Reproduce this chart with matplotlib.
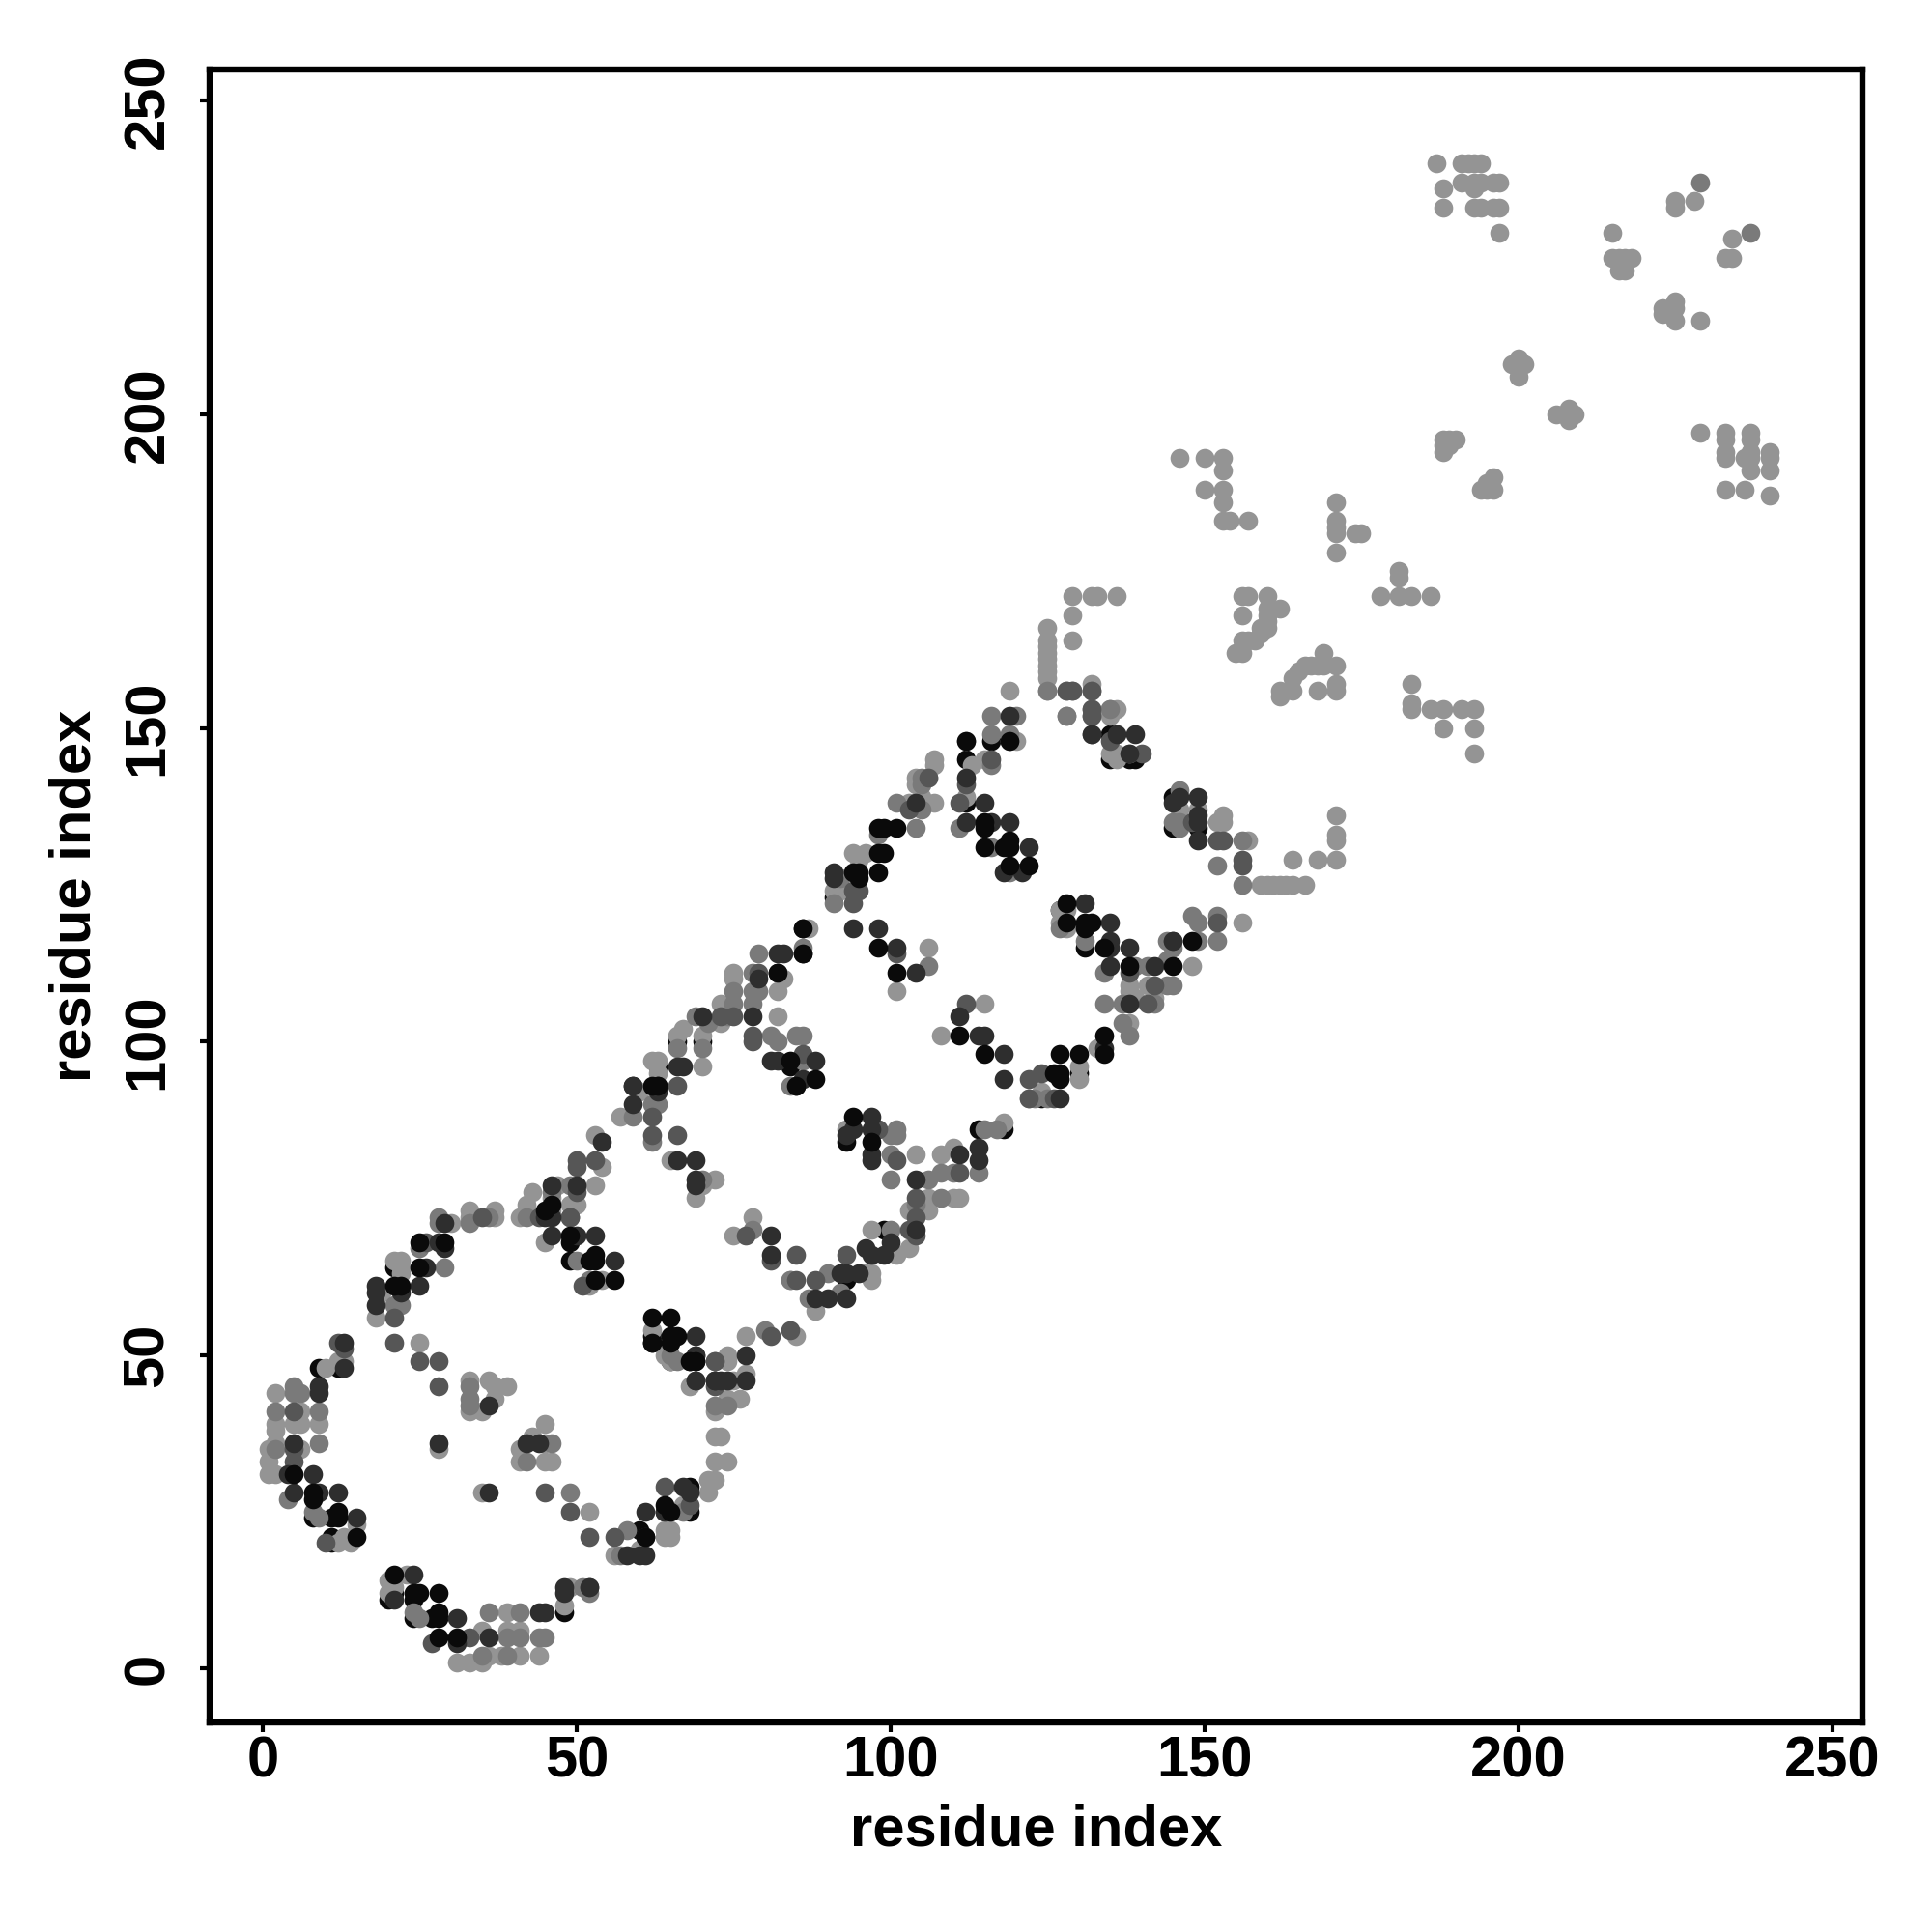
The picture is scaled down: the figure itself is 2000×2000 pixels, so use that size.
# contact map, residue index vs residue index
import matplotlib
matplotlib.use("Agg")
import matplotlib.pyplot as plt

plt.rcParams['font.family'] = ['Liberation Sans', 'DejaVu Sans']
plt.rcParams['font.weight'] = 'bold'

# contacts (residue i, residue j), grouped by how dark they are drawn
black_under = [(8,24),(11,24),(11,21),(9,48),(12,48),(48,9),(20,11),(28,8),(24,8),(27,8),(24,11),(21,12),
    (65,49),(64,25),(68,25),(68,29),(60,22),(62,52),(59,93),(63,96),(66,100),(70,100),(82,111),(86,114),(86,118),
    (84,96),(85,93),(99,70),(93,62),(93,84),(68,49),(69,49),(62,53),(112,145),(112,138),(116,148),(135,145),(138,145),(139,145),
    (135,149),(91,123),(145,139),(145,134),(149,134),(131,115),(130,95),(124,91),(127,121),
    (21,64),(11,20),(49,68),(49,65),(114,86),(118,86)]
shade_light = [(31,1),(33,1),(35,1),(36,2),(38,2),(41,2),(44,2),(35,6),(39,6),(41,6),(39,9),(48,10),
    (23,15),(20,14),(21,13),(20,12),(49,13),(14,20),(12,20),(13,21),(15,23),(2,31),(1,31),(1,33),(1,35),(2,36),(6,35),
    (2,38),(5,39),(6,39),(9,39),(2,39),(6,41),(2,44),(10,48),(12,49),(13,49),(25,52),(33,46),(36,46),(37,45),(39,45),(37,43),
    (33,41),(35,41),(45,39),(43,37),(45,36),(41,35),(41,33),(45,33),(46,33),(28,35),(35,28),(52,25),
    (56,18),(60,19),(64,22),(65,22),(65,21),(64,21),(64,50),(65,49),(67,26),(71,30),(71,28),(68,45),(62,54),
    (18,56),(19,60),(21,65),(22,65),(22,63),(22,64),(30,71),(33,72),(33,73),(45,68),(54,62),(52,61),
    (37,73),(37,72),(41,72),(42,73),(43,76),(42,74),(46,73),(46,75),(47,77),(49,74),(50,74),(53,77),(54,80),(53,85),
    (57,88),(60,92),(62,97),(63,97),(63,95),(70,96),(67,102),(66,101),(70,101),(73,106),(73,103),(75,110),(75,111),
    (83,110),(82,108),(87,118),(82,104),(106,115),(101,108),(93,86),(104,82),(108,82),(110,83),(110,75),(111,75),(106,75),(106,73),(103,73),
    (103,67),(101,66),(97,70),(96,63),(97,63),(97,62),(88,57),(84,62),(78,72),(75,69),(77,53),(85,53),(74,50),(74,49),
    (65,81),(72,78),(70,77),(69,75),(108,101),(115,106),(118,87),
    (77,47),(75,46),(76,43),(74,43),(72,41),(72,37),(73,37),(72,33),(74,33),(72,30),
    (119,156),(125,158),(132,157),(135,153),(136,153),(135,152),(112,148),(120,148),(113,144),(107,145),(107,144),
    (115,145),(104,142),(106,142),(104,141),(112,139),(107,138),(105,139),(103,138),(136,145),(135,146),(136,146),(138,146),
    (95,129),(94,130),(96,130),(92,124),(91,124),(127,121),(128,121),(127,119),(128,118),(148,112),(156,119),
    (138,108),(138,109),(139,107),(141,109),(142,107),(138,103),(124,92),(130,96),(133,99),(130,94),(122,91),
    (146,193),(150,193),(153,193),(153,191),(150,188),(153,188),(153,186),(153,183),(154,183),(157,183),
    (171,186),(171,183),(171,182),(171,181),(171,178),(174,181),(175,181),(181,175),(181,174),(178,171),(181,171),(183,171),(186,171),
    (129,171),(132,171),(133,171),(136,171),(129,168),(129,164),(125,166),(125,164),(125,163),(125,162),(125,161),(125,160),(125,159),
    (125,156),(156,171),(157,171),(160,171),(156,168),(160,169),(162,169),(160,168),(160,167),(159,166),(160,166),(158,164),(159,165),
    (156,164),(155,162),(156,162),(157,164),(169,162),(166,160),(167,160),(168,160),(169,160),(171,160),(165,159),(164,158),
    (162,156),(164,156),(162,155),(168,156),(171,157),(171,156),(183,157),(183,154),(183,153),(186,153),(188,153),(191,153),(193,153),
    (188,150),(193,150),(193,146),(149,137),(146,137),(153,136),(153,135),(152,135),(157,132),(159,125),(160,125),(161,125),(162,125),
    (163,125),(164,125),(166,125),(164,129),(168,129),(171,129),(171,133),(171,132),(171,136),
    (187,240),(191,240),(192,240),(193,240),(194,240),(188,236),(188,233),(191,237),(193,237),(193,236),(194,237),(196,237),(197,237),
    (193,233),(194,233),(196,233),(197,233),(197,229),(228,234),(225,234),(225,233),(215,229),(234,228),(233,225),(234,225),
    (215,225),(216,225),(217,225),(218,225),(216,223),(217,223),(223,217),(225,218),(223,216),(225,217),(225,215),(224,216),(229,215),
    (200,209),(199,208),(201,208),(200,208),(200,206),(206,200),(208,201),(209,200),(208,199),(229,197),(233,197),(233,196),(233,194),(233,193),
    (237,197),(237,196),(237,194),(236,193),(237,193),(237,191),(240,194),(240,193),(240,191),(233,188),(236,188),(240,187),
    (188,196),(189,196),(190,196),(188,195),(188,194),(189,195),(196,190),(195,189),(194,188),(196,188),(195,188)]
shade_mid = [(35,2),(39,2),(39,5),(41,5),(44,5),(45,5),(36,9),(41,9),(25,8),(24,9),(51,13),(52,12),(9,24),(8,25),
    (4,27),(33,43),(2,35),(2,41),(9,41),(5,45),(5,44),(6,44),(9,36),(42,33),(46,36),(33,42),(33,45),(49,28),
    (58,22),(57,18),(67,25),(65,53),(72,49),(46,76),(42,72),(49,77),(59,88),(62,90),(63,90),(62,84),(66,99),
    (21,58),(22,58),(25,67),(29,64),(28,72),(28,71),(33,71),(36,72),(50,65),(52,62),(70,78),(115,86),(117,86),
    (70,99),(69,104),(71,103),(74,104),(75,106),(75,108),(78,106),(78,108),(78,111),(79,108),(79,114),(86,115),(81,101),(82,100),
    (85,101),(86,101),(86,97),(84,93),(106,112),(98,86),(101,86),(100,85),(101,85),(100,82),(100,78),(106,78),(108,79),(110,79),(114,79),
    (108,75),(104,74),(100,70),(90,63),(92,60),(87,59),(84,62),(78,70),(80,54),(66,49),(65,50),(72,42),(74,42),(116,152),(120,152),(128,152),
    (125,156),(128,156),(129,156),(132,156),(116,149),(119,149),(119,148),(105,142),(105,141),(116,144),(111,134),(104,134),(105,137),
    (98,133),(116,131),(92,126),(91,122),(119,127),(127,118),(131,116),(139,112),(141,112),(144,113),(134,111),(134,106),(137,106),
    (144,109),(145,109),(142,106),(144,116),(145,115),(149,116),(152,116),(148,120),(149,119),(152,120),(137,103),(138,101),(125,91),(123,91),
    (146,140),(145,135),(146,135),(146,134),(156,132),(152,128),(156,125),(128,152),(132,153),(132,152),(135,153),(229,237),(237,229),(101,138)]
shade_middark = [(27,4),(33,5),(52,13),(10,20),(5,33),(5,35),(5,41),(12,52),(13,51),(21,52),(25,49),(28,49),(28,45),(45,28),(49,25),(52,21),(56,21),
    (21,56),(26,68),(44,72),(49,72),(51,61),
    (68,26),(64,29),(72,46),(72,45),(35,72),(50,76),(49,72),(50,81),(50,80),(53,81),(62,88),(62,85),(66,85),(66,93),(73,104),(75,104),(79,111),
    (78,101),(78,100),(86,98),(101,114),(98,86),(101,81),(111,79),(104,75),(104,72),(103,70),(104,69),(93,66),(88,62),(85,66),(77,69),(85,62),(81,65),
    (81,53),(84,54),(72,49),(132,156),(132,152),(141,106),(142,109),(138,111),(112,141),(116,145),(94,124),(95,124),(94,122),(122,94),(122,91),(124,95),(126,91),
    (135,148),(140,146),(128,156),(129,156),(152,132),(153,132),(156,129),(156,128),(148,135),(132,153),(132,149),(145,116),(152,119),(112,106),(103,137),(106,142),(111,138)]
shade_dark = [(31,4),(36,5),(44,9),(45,9),(31,8),(24,15),(21,11),(48,13),(52,13),(48,12),(15,24),(12,28),(9,28),(5,28),(8,31),(4,31),(5,36),(9,45),(9,44),(13,48),(13,52),
    (18,61),(18,60),(18,58),(22,60),(25,61),(26,64),(28,68),(29,67),(29,71),(46,69),(50,69),(53,69),(56,65),(66,81),(69,81),(69,78),(69,77),
    (42,36),(44,36),(36,42),(28,36),(36,28),(61,21),(58,18),(60,18),(61,18),(61,25),(64,25),(67,29),(68,28),(69,46),(72,46),(73,46),(69,50),(69,53),
    (45,72),(46,72),(46,77),(50,77),(54,84),(59,90),(59,93),(63,93),(63,92),(66,96),(67,96),(70,104),(78,104),(79,110),(82,114),(83,114),(81,97),(82,97),(88,97),(86,94),
    (94,118),(98,118),(101,115),(104,111),(97,88),(94,86),(93,85),(97,86),(97,82),(97,81),(104,78),(111,82),(114,83),(114,81),
    (104,70),(96,67),(97,66),(99,66),(100,68),(95,63),(92,63),(93,63),(88,59),(90,59),(93,59),(81,69),(81,66),(77,50),(77,46),(74,46),(72,46),(69,46),(69,50),
    (119,152),(132,149),(136,149),(139,149),(112,142),(115,138),(104,138),(112,135),(116,135),(119,135),(122,131),(118,127),(91,127),(91,126),
    (131,122),(135,119),(135,116),(135,115),(138,115),(135,112),(142,112),(138,106),(145,116),(118,98),(118,94),(114,101),(115,101),(111,104),(134,99),(127,91),
    (146,139),(145,138),(149,139),(149,136),(149,135),(149,132),(138,146),(121,127)]
black_top = [(15,21),(28,9),(21,15),(24,12),(25,12),(28,12),(31,5),(28,5),(62,56),(65,56),(65,53),(66,53),(65,52),(61,21),(62,52),(46,74),(45,73),
    (5,31),(8,28),(8,27),(12,25),(12,24),(65,25),(64,26),(84,97),(21,61),(22,61),(25,64),(25,68),(29,68),(49,69),(52,65),(53,66),(53,65),(56,62),(53,62),
    (63,93),(62,93),(82,111),(101,111),(98,115),(111,101),(115,98),(94,88),(97,84),(88,94),(85,93),(98,130),(99,130),(118,131),(119,131),(119,132),(115,131),
    (115,135),(115,134),(119,128),(122,128),(128,122),(128,119),(131,119),(132,119),(131,118),(134,115),(138,112),(145,112),(148,116),(130,98),(127,98),(127,95),(126,95),(127,94),
    (134,101),(134,98),(101,134),(99,134),(98,134),(98,127),(95,127),(94,127),(95,126),(119,148),(112,148),(86,118),(86,114),(69,49),(68,49)]

# drawing order, first one ends up at the bottom
groups = [black_under, shade_light, shade_mid, shade_middark, shade_dark, black_top]
grays = ['#0a0a0a', '#949494', '#7a7a7a', '#565656', '#2e2e2e', '#0a0a0a']

tick_vals = [0, 50, 100, 150, 200, 250]

fig = plt.figure(figsize=(10, 10), dpi=200)
ax = fig.add_axes([217/2000, 1 - 1783/2000, (1928-217)/2000, (1783-72)/2000])

for pts, col in zip(groups, grays):
    xs = [p[0] for p in pts]
    ys = [p[1] for p in pts]
    ax.scatter(xs, ys, s=50, c=col, linewidths=0)

ax.set_xlim(-8.46, 254.77)
ax.set_ylim(-8.6, 255)
ax.set_xticks(tick_vals)
ax.set_yticks(tick_vals)
ax.tick_params(axis='x', length=3.5, width=1.5, labelsize=21.5, pad=1.5)
ax.tick_params(axis='y', length=3.5, width=1.5, labelsize=21.5, pad=9.5)
for lab in ax.get_yticklabels():
    lab.set_rotation(90)
    lab.set_va('center')
for sp in ax.spines.values():
    sp.set_linewidth(2.3)

ax.set_xlabel('residue index', fontsize=21.5, fontweight='bold', labelpad=5.5)
ax.set_ylabel('residue index', fontsize=21.5, fontweight='bold', labelpad=7.5)

fig.savefig('out.png', dpi=200)
